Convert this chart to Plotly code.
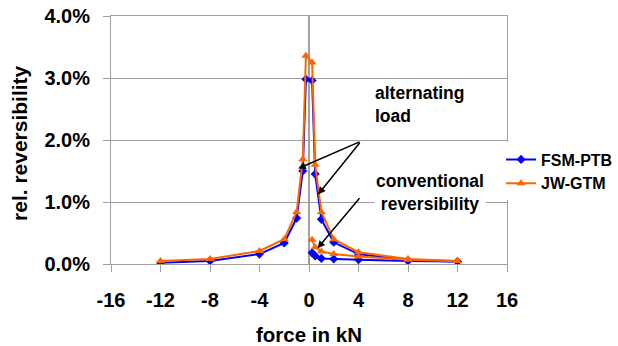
import plotly.graph_objects as go

# force (kN)
force_alt = [-12, -8, -4, -2, -1, -0.5, -0.25, 0.25, 0.5, 1, 2, 4, 8, 12]
force_conv = [0.25, 0.5, 1, 2, 4, 8, 12]

# relative reversibility (%)
fsm_alt = [0.02, 0.05, 0.16, 0.34, 0.74, 1.50, 2.98, 2.96, 1.45, 0.72, 0.35, 0.16, 0.06, 0.04]
jw_alt = [0.05, 0.08, 0.21, 0.40, 0.84, 1.69, 3.36, 3.25, 1.60, 0.84, 0.40, 0.19, 0.08, 0.05]
fsm_conv = [0.18, 0.13, 0.09, 0.08, 0.07, 0.05, 0.04]
jw_conv = [0.39, 0.27, 0.20, 0.16, 0.12, 0.07, 0.05]

x_ticks = [-16, -12, -8, -4, 0, 4, 8, 12, 16]
y_ticks = [0, 1, 2, 3, 4]

FONT = "Liberation Sans, Arial, sans-serif"
BLUE = "#0000FF"
ORANGE = "#FF6600"
GRID = "#A0A0A0"

def frac(v):
    return [a / 100 for a in v]

fig = go.Figure()
fig.add_trace(go.Scatter(x=force_alt, y=frac(fsm_alt), mode="lines+markers", name="FSM-PTB",
                         legendgroup="fsm", line=dict(color=BLUE, width=2),
                         marker=dict(symbol="diamond", size=7, color=BLUE)))
fig.add_trace(go.Scatter(x=force_conv, y=frac(fsm_conv), mode="lines+markers", name="FSM-PTB",
                         legendgroup="fsm", showlegend=False, line=dict(color=BLUE, width=2),
                         marker=dict(symbol="diamond", size=7, color=BLUE)))
fig.add_trace(go.Scatter(x=force_alt, y=frac(jw_alt), mode="lines+markers", name="JW-GTM",
                         legendgroup="jw", line=dict(color=ORANGE, width=2),
                         marker=dict(symbol="triangle-up", size=8, color=ORANGE)))
fig.add_trace(go.Scatter(x=force_conv, y=frac(jw_conv), mode="lines+markers", name="JW-GTM",
                         legendgroup="jw", showlegend=False, line=dict(color=ORANGE, width=2),
                         marker=dict(symbol="triangle-up", size=8, color=ORANGE)))

ann_font = dict(family=FONT, size=17.5, color="black", weight="bold")
arrow = dict(showarrow=True, arrowhead=2, arrowsize=1, arrowwidth=1.5, arrowcolor="black",
             axref="x", ayref="y", xref="x", yref="y", text="", standoff=0)
annotations = [
    dict(x=5.15, y=0.02565, xref="x", yref="y", xanchor="left", yanchor="middle", align="left",
         text="alternating<br>load", showarrow=False, font=ann_font),
    dict(x=9.78, y=0.01161, xref="x", yref="y", xanchor="center", yanchor="middle", align="center",
         text="conventional<br>reversibility", showarrow=False, font=ann_font,
         bgcolor="white"),
    dict(arrow, x=-0.87, y=0.0154, ax=4.2, ay=0.0198),
    dict(arrow, x=0.73, y=0.0112, ax=4.2, ay=0.0198),
    dict(arrow, x=0.69, y=0.00253, ax=4.18, ay=0.01085),
    # axis titles
    dict(x=-0.2298, y=0.488, xref="paper", yref="paper", xanchor="center", yanchor="middle",
         text="rel. reversibility", textangle=-90, showarrow=False,
         font=dict(family=FONT, size=21, color="black", weight="bold")),
    dict(x=0.5, y=-0.286, xref="paper", yref="paper", xanchor="center", yanchor="middle",
         text="force in kN", showarrow=False,
         font=dict(family=FONT, size=20.5, color="black", weight="bold")),
]

fig.update_layout(
    width=618, height=346,
    margin=dict(l=111, r=111, t=16, b=82, autoexpand=False),
    paper_bgcolor="white", plot_bgcolor="white",
    font=dict(family=FONT, color="black"),
    showlegend=True,
    legend=dict(x=0.985, y=0.49, xanchor="left", yanchor="top", bgcolor="white",
                font=dict(family=FONT, size=16, color="black", weight="bold"), tracegroupgap=0),
    annotations=annotations,
    xaxis=dict(range=[-16, 16], tickvals=x_ticks, ticktext=[str(t) for t in x_ticks],
               automargin=False, ticklabeloverflow="allow",
               showgrid=False, zeroline=True, zerolinecolor=GRID, zerolinewidth=1.5,
               showline=True, linecolor=GRID, linewidth=1, mirror=True,
               ticks="outside", ticklen=7, tickcolor=GRID, ticklabelstandoff=11,
               tickfont=dict(family=FONT, size=20, color="black", weight="bold")),
    yaxis=dict(range=[0, 0.04], tickvals=[t / 100 for t in y_ticks],
               ticktext=[f"{t:.1f}%" for t in y_ticks], automargin=False,
               ticklabeloverflow="allow",
               showgrid=True, gridcolor=GRID, gridwidth=1, zeroline=False,
               showline=True, linecolor=GRID, linewidth=1, mirror=True,
               ticks="outside", ticklen=7, tickcolor=GRID, ticklabelstandoff=9,
               tickfont=dict(family=FONT, size=20, color="black", weight="bold")),
)

fig.write_html("out.html", config={"displayModeBar": False},
               post_script="document.body.style.margin='0';"
                           "document.documentElement.style.overflow='hidden';"
                           "document.body.style.overflow='hidden';")
